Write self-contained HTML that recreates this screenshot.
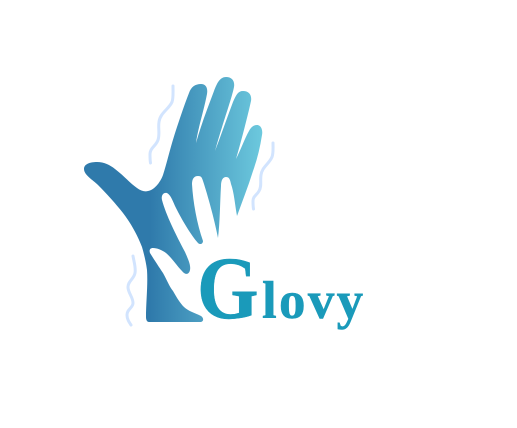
<!DOCTYPE html>
<html>
<head>
<meta charset="utf-8">
<style>
html,body{margin:0;padding:0;background:#fff;width:517px;height:428px;overflow:hidden}
svg{display:block}
</style>
</head>
<body>
<svg width="517" height="428" viewBox="0 0 517 428" xmlns="http://www.w3.org/2000/svg">
<defs>
<linearGradient id="g" gradientUnits="userSpaceOnUse" x1="150" y1="200" x2="265" y2="200">
<stop offset="0" stop-color="#2f7aab"/>
<stop offset="1" stop-color="#6ecbdf"/>
</linearGradient>
</defs>
<path fill="url(#g)" d="M84 169 C84 164 90 162 97 162 C104 162 110 165 115 169 C123 175 130 183 137 188 C141 191 145 192 148 191 C154 190 160 183 163 175 C167 163 170 148 177 127 C181 115 185 103 189 93 C191 87 195 84 201 84 C206 84 208 88 207 94 C204 110 198 128 196 143 C201 125 208 107 214 91 C217 83 220 77 226 77 C232 77 235 81 234 87 C232 98 222 125 215 151 C220 138 227 118 233 102 C236 95 238 91 243 91 C249 91 252 95 251 101 C248 115 242 138 236 159 C241 149 245 138 249 131 C251 127 254 125 257 125 C261 125 263 130 262 135 C260 148 257 160 253 171 C248 187 242 202 237 216 C235 205 234 192 231 184 C230 179 229 177 226 177 C223 177 221 180 221 186 C220 202 220 222 218 238 C215 222 209 200 204 184 C202 178 202 176 198 176 C194 176 192 179 192 184 C193 202 197 224 203 241 C203 244 200 245 198 243 C191 235 182 220 176 208 C173 202 171 195 167 193 C163 192 161 196 162 200 C166 215 176 235 185 252 C188 259 191 265 190 270 C189 275 185 275 182 271 C177 266 172 258 166 253 C162 250 157 248 153 248 C150 248 149 250 150 253 C155 261 159 267 163 273 C167 280 169 286 173 291 C177 298 180 303 184 307 C188 311 195 313 201 316 C204 318 204 322 200 322 L149 322 C147 322 146 320 146 317 C146 302 148 285 147 270 C146 262 144 254 142 247 C137 234 130 222 123 213 C116 204 106 193 98 185 C93 180 84 175 84 169 Z"/>
<g fill="none" stroke="#d2e4fe" stroke-width="3" stroke-linecap="round">
<path d="M173 86 C173 92 173.500 98 172 102 C169 109 160 113 159 122 C158 128 160 134 158 140 C156 146 150 148 150 154 C150 157 150 160 150.500 163"/>
<path d="M273 143 C273 148 273.500 153 272 157 C269 164 262 167 261 175 C260 181 262 186 259 191 C257 195 253 196 253 201 C253 204 253 206 253.500 209"/>
<path d="M133 256 C134 262 136 268 135 273 C134 279 128 281 128 287 C128 293 133 297 133 303 C133 308 127 309 127 315 C127 319 129 322 131 325"/>
</g>
<text transform="translate(197 318) scale(0.89 1)" fill="#1a9aba" stroke="#1a9aba" stroke-width="0.5" font-family="'Liberation Serif',serif" font-weight="700" font-size="89">G</text>
<text x="262" y="318" fill="#1a9aba" stroke="#1a9aba" stroke-width="0.5" font-family="'Liberation Serif',serif" font-weight="700" font-size="53" letter-spacing="2.300">lovy</text>
</svg>
</body>
</html>
